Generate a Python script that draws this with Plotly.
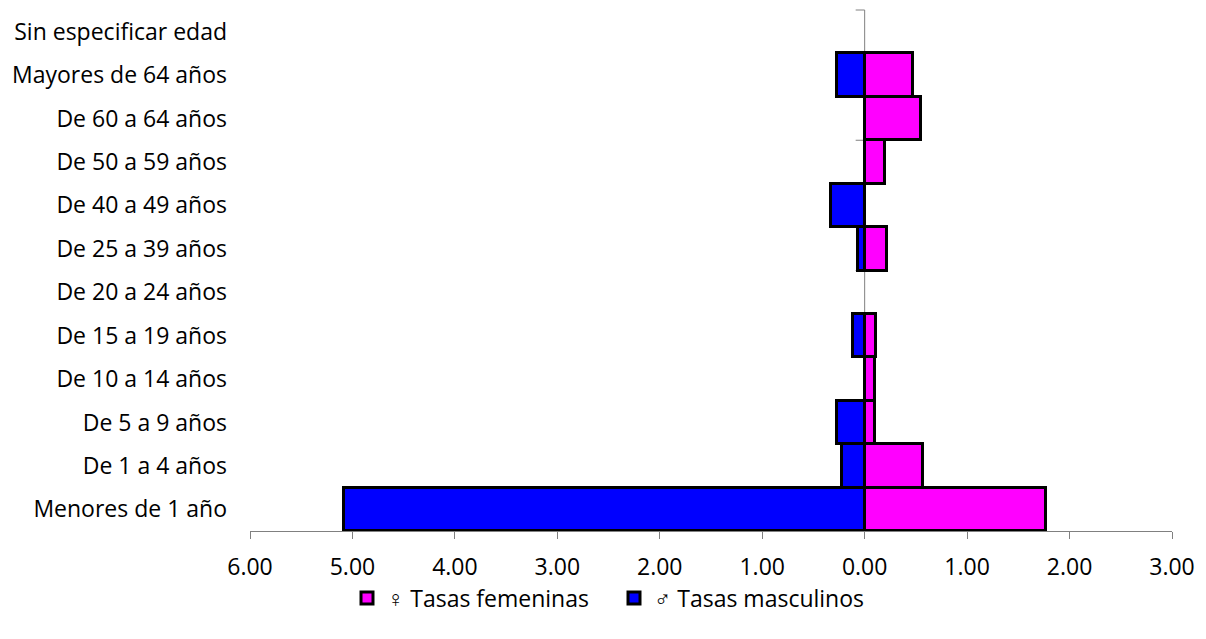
import plotly.graph_objects as go

categories = ["Menores de 1 año", "De 1 a 4 años", "De 5 a 9 años", "De 10 a 14 años",
              "De 15 a 19 años", "De 20 a 24 años", "De 25 a 39 años", "De 40 a 49 años",
              "De 50 a 59 años", "De 60 a 64 años", "Mayores de 64 años", "Sin especificar edad"]
tasas_femeninas = [1.77, 0.57, 0.10, 0.10, 0.11, 0.00, 0.22, 0.00, 0.20, 0.55, 0.47, 0.00]
tasas_masculinos = [5.08, 0.22, 0.27, 0.00, 0.115, 0.00, 0.07, 0.33, 0.00, 0.00, 0.27, 0.00]
tick_vals = [-6, -5, -4, -3, -2, -1, 0, 1, 2, 3]
tick_text = ["6.00", "5.00", "4.00", "3.00", "2.00", "1.00", "0.00", "1.00", "2.00", "3.00"]

FONT = "Open Sans"
FS = 23

fem = [v if v else None for v in tasas_femeninas]
mas = [-v if v else None for v in tasas_masculinos]

fig = go.Figure()
fig.add_trace(go.Bar(y=categories, x=fem, orientation="h", name="♀ Tasas femeninas",
                     marker=dict(color="#FF00FF", line=dict(color="black", width=3))))
fig.add_trace(go.Bar(y=categories, x=mas, orientation="h", name="♂ Tasas masculinos",
                     marker=dict(color="#0000FF", line=dict(color="black", width=3))))

shapes = [dict(type="line", xref="x", yref="paper", x0=0, x1=0, y0=0, y1=1,
               line=dict(color="#808080", width=1), layer="below")]
for k in [3, 6, 9, 12]:
    shapes.append(dict(type="line", xref="x", yref="paper", xsizemode="pixel", xanchor=0,
                       x0=-9, x1=0, y0=k / 12, y1=k / 12,
                       line=dict(color="#808080", width=1), layer="below"))

# page has an 8px body margin, so compensate
W, H = 1190, 623
fig.update_layout(
    width=W, height=H,
    margin=dict(l=242, r=W - (1172 - 8), t=2, b=H - (531 - 8)),
    paper_bgcolor="white", plot_bgcolor="white",
    barmode="relative", bargap=0,
    font=dict(family=FONT, size=FS, color="black"),
    showlegend=True,
    legend=dict(orientation="h", xref="container", yref="container", x=(614 - 8) / W,
                xanchor="center", y=1 - (598 - 8) / H, yanchor="middle",
                font=dict(size=FS, family=FONT), traceorder="normal",
                itemwidth=30, entrywidth=222, entrywidthmode="pixels"),
    shapes=shapes,
)
fig.update_xaxes(range=[-6, 3], tickvals=tick_vals, ticktext=tick_text, showgrid=False,
                 zeroline=False, showline=True, linecolor="#808080", linewidth=1,
                 ticks="outside", ticklen=7, tickcolor="#808080", ticklabelstandoff=8,
                 automargin=False, tickfont=dict(size=FS, family=FONT))
fig.update_yaxes(categoryorder="array", categoryarray=categories, showgrid=False,
                 zeroline=False, showline=False, ticks="", ticklabelstandoff=22,
                 automargin=False, range=[-0.5, 11.5], tickfont=dict(size=FS, family=FONT))

fig.write_html("out.html")
